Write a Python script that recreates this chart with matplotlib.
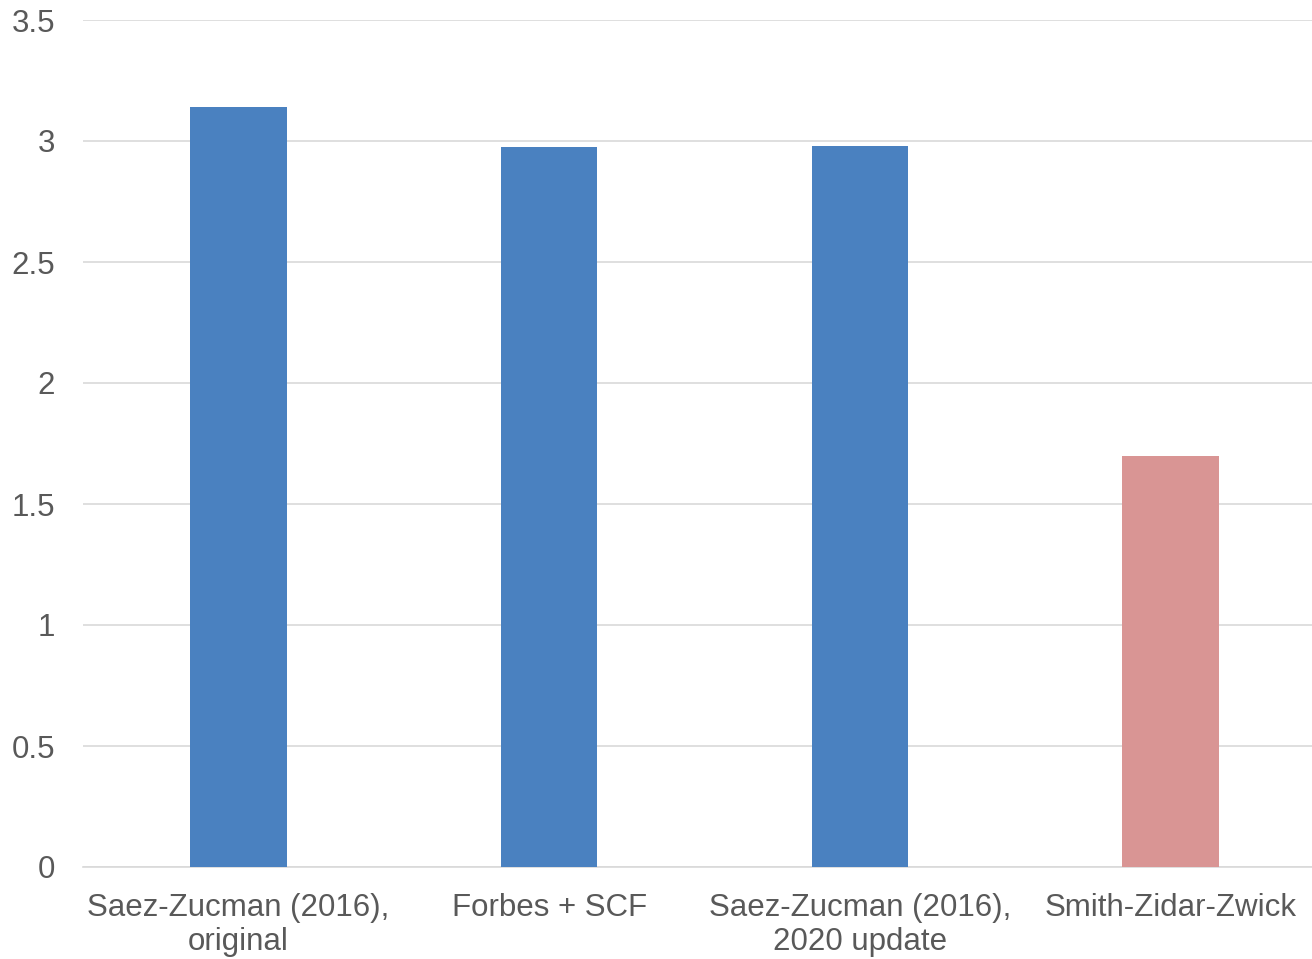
import matplotlib
matplotlib.use("Agg")
import matplotlib.pyplot as plt

categories = ["Saez-Zucman (2016),\noriginal", "Forbes + SCF",
              "Saez-Zucman (2016),\n2020 update", "Smith-Zidar-Zwick"]
values = [3.14, 2.975, 2.98, 1.70]
colors = ["#4A81C0", "#4A81C0", "#4A81C0", "#D99594"]
yticks = [0, 0.5, 1, 1.5, 2, 2.5, 3, 3.5]

plt.rcParams["font.family"] = ["Liberation Sans", "DejaVu Sans"]

W, H = 1312, 959
fig = plt.figure(figsize=(W / 100, H / 100), dpi=100)
ax = fig.add_axes([83 / W, (H - 867) / H, 1243 / W, (867 - 20) / H])

x = list(range(len(categories)))
ax.bar(x, values, width=0.31, color=colors, zorder=3)

ax.set_xlim(-0.5, 3.5)
ax.set_ylim(0, 3.5)
ax.set_yticks(yticks)
ax.set_yticklabels([f"{t:g}" for t in yticks])
ax.set_xticks(x)
ax.set_xticklabels(categories, linespacing=1.17)
ax.yaxis.grid(True, color="#D9D9D9", linewidth=1.2, zorder=0)
ax.tick_params(axis="both", length=0, labelsize=22.5, labelcolor="#595959")
ax.tick_params(axis="y", pad=20)
ax.tick_params(axis="x", pad=19)
for s in ["top", "right", "left"]:
    ax.spines[s].set_visible(False)
ax.spines["bottom"].set_color("#D9D9D9")
ax.spines["bottom"].set_linewidth(1.2)

fig.savefig("out.png", dpi=100)
